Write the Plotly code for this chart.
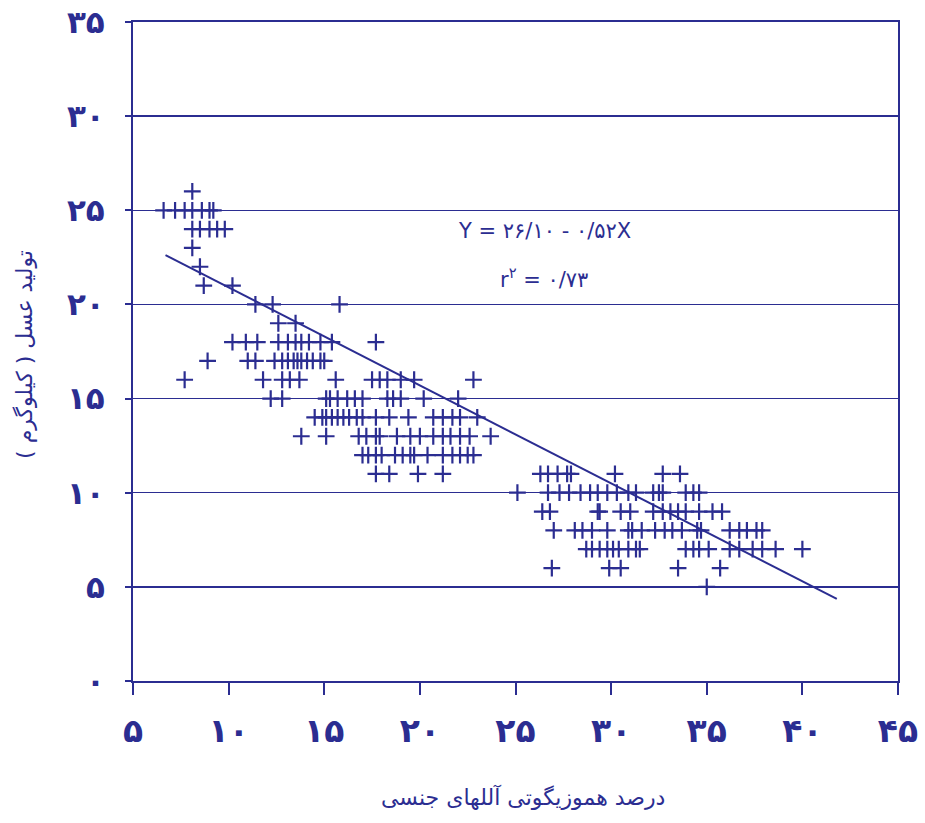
import plotly.graph_objects as go

INK = "#2B2D91"
FONT = "DejaVu Sans"

# Axis ticks (Persian digits as in the original)
x_tick_vals = [5, 10, 15, 20, 25, 30, 35, 40, 45]
x_tick_text = ["۵", "۱۰", "۱۵", "۲۰", "۲۵", "۳۰", "۳۵", "۴۰", "۴۵"]
y_tick_vals = [0, 5, 10, 15, 20, 25, 30, 35]
y_tick_text = ["۰", "۵", "۱۰", "۱۵", "۲۰", "۲۵", "۳۰", "۳۵"]

# Homozygosity (%) of the points, grouped by honey yield (kg)
hom_at_26 = [8.1]
hom_at_25 = [6.6, 7.2, 7.7, 8.1, 8.6, 9.0, 9.2]
hom_at_24 = [8.1, 8.5, 9.0, 9.4, 9.8]
hom_at_23 = [8.1]
hom_at_22 = [8.5]
hom_at_21 = [8.7, 10.2]
hom_at_20 = [11.4, 12.3, 15.8]
hom_at_19 = [12.6, 13.5]
hom_at_18 = [10.2, 10.9, 11.5, 12.6, 13.1, 13.5, 13.8, 14.2, 14.8, 15.4, 17.7]
hom_at_17 = [8.9, 11.0, 11.4, 12.4, 12.8, 13.1, 13.4, 13.6, 13.8, 14.1, 14.4, 14.8, 15.0]
hom_at_16 = [7.7, 11.8, 12.8, 13.2, 13.7, 15.6, 17.5, 17.9, 18.3, 19.0, 19.7, 22.8]
hom_at_15 = [12.2, 12.8, 15.1, 15.3, 15.7, 16.2, 16.6, 17.0, 18.3, 18.6, 19.0, 20.2, 22.0]
hom_at_14 = [14.5, 14.9, 15.1, 15.4, 15.7, 16.0, 16.3, 16.7, 17.0, 17.7, 18.4, 19.4,
             20.7, 21.2, 21.7, 22.1, 23.0]
hom_at_13 = [13.8, 15.1, 16.8, 17.2, 17.7, 17.9, 18.8, 19.5, 20.0, 20.7, 21.2, 21.6,
             22.1, 22.6, 23.7]
hom_at_12 = [17.0, 17.3, 17.7, 18.0, 18.7, 19.1, 19.5, 19.7, 20.4, 21.2, 21.7, 22.1,
             22.5, 22.8]
hom_at_11 = [17.7, 18.4, 19.9, 21.2, 26.3, 26.7, 27.2, 27.7, 27.9, 30.2, 32.7, 33.6]
hom_at_10 = [25.1, 26.7, 27.3, 27.8, 28.4, 28.9, 29.3, 29.8, 30.3, 30.9, 31.3, 32.2,
             32.5, 32.7, 33.9, 34.3, 34.6]
hom_at_9 = [26.4, 26.8, 29.3, 29.4, 30.5, 31.0, 32.2, 32.7, 33.1, 33.5, 33.9, 34.6,
            35.3, 35.8]
hom_at_8 = [27.0, 28.1, 28.5, 29.0, 29.8, 30.9, 31.1, 31.6, 32.3, 32.8, 33.2, 33.7,
            34.5, 34.7, 36.2, 36.7, 37.1, 37.6, 37.9]
hom_at_7 = [28.7, 29.0, 29.4, 29.8, 30.1, 30.4, 30.9, 31.3, 31.5, 33.9, 34.3, 34.6,
            35.1, 36.2, 36.7, 37.4, 37.9, 38.6, 40.0]
hom_at_6 = [26.9, 29.9, 30.5, 33.5, 35.7]
hom_at_5 = [35.0]

yield_levels = [26, 25, 24, 23, 22, 21, 20, 19, 18, 17, 16, 15, 14, 13, 12, 11, 10, 9, 8, 7, 6, 5]
hom_groups = [hom_at_26, hom_at_25, hom_at_24, hom_at_23, hom_at_22, hom_at_21, hom_at_20,
              hom_at_19, hom_at_18, hom_at_17, hom_at_16, hom_at_15, hom_at_14, hom_at_13,
              hom_at_12, hom_at_11, hom_at_10, hom_at_9, hom_at_8, hom_at_7, hom_at_6, hom_at_5]

# Regression line  Y = 26.10 - 0.52 X
reg_intercept = 26.10
reg_slope = -0.52
reg_x = [6.7, 41.8]

px_list, py_list = [], []
for lvl, grp in zip(yield_levels, hom_groups):
    for v in grp:
        px_list.append(v)
        py_list.append(lvl)

reg_y = [reg_intercept + reg_slope * v for v in reg_x]

fig = go.Figure()
fig.add_trace(go.Scatter(
    x=px_list, y=py_list, mode="markers",
    marker=dict(symbol="cross-thin", size=12, line=dict(width=2.2, color=INK), color=INK),
    showlegend=False, hoverinfo="skip"))
fig.add_trace(go.Scatter(
    x=reg_x, y=reg_y, mode="lines",
    line=dict(color=INK, width=2), showlegend=False, hoverinfo="skip"))

fig.update_layout(
    width=925, height=823,
    margin=dict(l=133, r=27, t=22, b=142),
    paper_bgcolor="white", plot_bgcolor="white",
    font=dict(family=FONT, color=INK),
    xaxis=dict(range=[5, 45], tickvals=x_tick_vals, ticktext=x_tick_text,
               showgrid=False, zeroline=False, showline=True, mirror=True,
               linecolor=INK, linewidth=2, ticks="outside", ticklen=12,
               tickwidth=2, tickcolor=INK, ticklabelstandoff=7, automargin=False,
               ticklabeloverflow="allow",
               tickfont=dict(family=FONT, size=33, color=INK, weight="bold")),
    yaxis=dict(range=[0, 35], tickvals=y_tick_vals, ticktext=y_tick_text,
               showgrid=True, gridcolor=INK, gridwidth=1.5, zeroline=False,
               showline=True, mirror=True, linecolor=INK, linewidth=2,
               ticks="outside", ticklen=6, tickwidth=2, tickcolor=INK,
               ticklabelstandoff=14, automargin=False, ticklabeloverflow="allow",
               tickfont=dict(family=FONT, size=31, color=INK, weight="bold")),
    annotations=[
        dict(text="Y = ۲۶/۱۰ - ۰/۵۲X", x=26.5, y=23.9, xref="x", yref="y",
             showarrow=False, font=dict(family=FONT, size=21, color=INK)),
        dict(text="r<sup>۲</sup> = ۰/۷۳", x=26.5, y=21.4, xref="x", yref="y",
             showarrow=False, font=dict(family=FONT, size=21, color=INK)),
        dict(text="تولید عسل ( کیلوگرم )", x=-0.141, y=0.495, xref="paper", yref="paper",
             xanchor="center", yanchor="middle",
             textangle=-90, showarrow=False, font=dict(family=FONT, size=22, color=INK)),
        dict(text="درصد هموزیگوتی آللهای جنسی", x=0.51, y=-0.176, xref="paper", yref="paper",
             xanchor="center", yanchor="middle",
             showarrow=False, font=dict(family=FONT, size=22, color=INK)),
    ],
)

fig.write_html("out.html",
               config={"displayModeBar": False, "staticPlot": True},
               post_script="document.body.style.margin='0px';document.body.style.overflow='hidden';")
